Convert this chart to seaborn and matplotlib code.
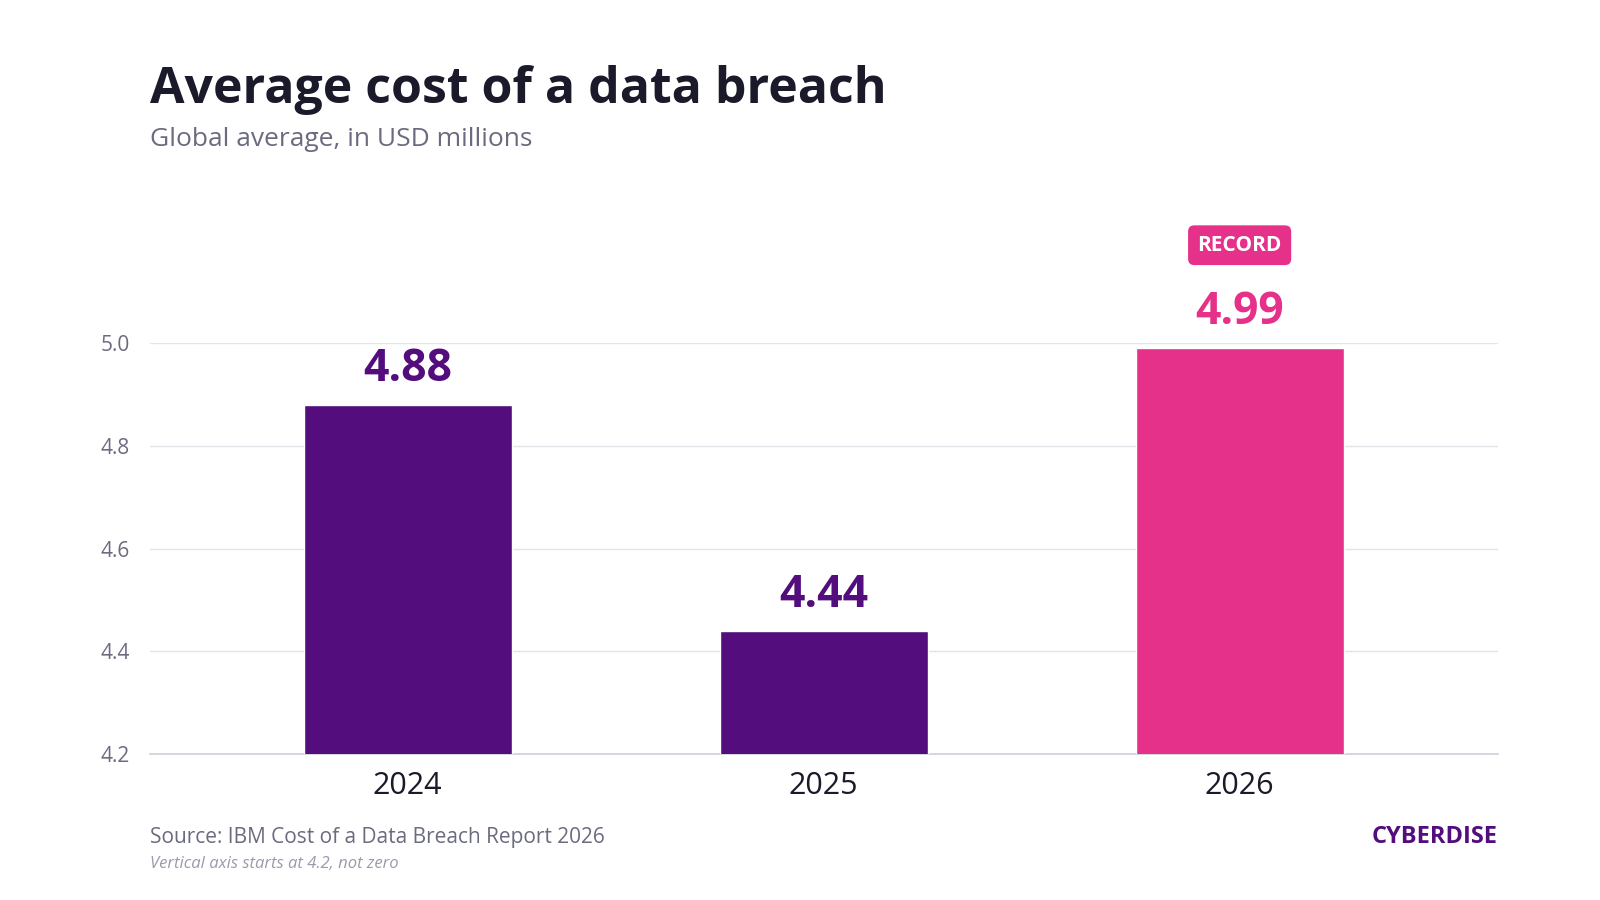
import matplotlib
matplotlib.use("Agg")
import matplotlib.pyplot as plt
import seaborn as sns
import pandas as pd

years = ["2024", "2025", "2026"]
costs = [4.88, 4.44, 4.99]
bar_colors = ["#540D7C", "#540D7C", "#E5318A"]
y_ticks = [4.2, 4.4, 4.6, 4.8, 5.0]

sns.set_theme(style="white")
plt.rcParams["font.family"] = ["Open Sans", "DejaVu Sans"]

df = pd.DataFrame({"year": years, "cost": costs})

fig = plt.figure(figsize=(16, 9), dpi=100)
ax = fig.add_axes([0.094, 0.162, 0.842, 0.457])

sns.barplot(data=df, x="year", y="cost", hue="year", palette=bar_colors,
            saturation=1, width=0.5, legend=False, ax=ax, zorder=3)

ax.set_ylim(4.2, 5.0)
ax.set_xlim(-0.618, 2.62)
ax.set_yticks(y_ticks)
ax.set_yticklabels([f"{t:.1f}" for t in y_ticks], fontsize=15, color="#6b6b80")
ax.tick_params(axis="x", labelsize=22, colors="#1a1a2a", pad=12, length=0)
ax.tick_params(axis="y", length=0, pad=15)
ax.set_xlabel("")
ax.set_ylabel("")
for t in y_ticks[1:]:
    ax.axhline(t, color="#e3e3ea", lw=1, zorder=1)
for s in ["top", "right", "left"]:
    ax.spines[s].set_visible(False)
ax.spines["bottom"].set_color("#d0d0dc")

for i, (v, c) in enumerate(zip(costs, bar_colors)):
    ax.text(i, v + 0.025, f"{v:.2f}", ha="center", va="bottom", fontsize=32,
            fontweight="bold", color=c, clip_on=False)
ax.text(2, 5.19, "RECORD", ha="center", va="center", fontsize=15,
        fontweight="bold", color="white", clip_on=False,
        bbox=dict(boxstyle="round,pad=0.45,rounding_size=0.3", fc="#E5318A", ec="none"))

fig.text(0.094, 0.9, "Average cost of a data breach", fontsize=36,
         fontweight="bold", color="#1a1a2a", va="center")
fig.text(0.094, 0.845, "Global average, in USD millions", fontsize=19,
         color="#6b6b80", va="center")
fig.text(0.094, 0.07, "Source: IBM Cost of a Data Breach Report 2026",
         fontsize=15, color="#6b6b80", va="center")
fig.text(0.094, 0.04, "Vertical axis starts at 4.2, not zero",
         fontsize=12, style="italic", color="#9a9aab", va="center")
fig.text(0.936, 0.07, "CYBERDISE", fontsize=17, fontweight="bold",
         color="#540D7C", ha="right", va="center")

fig.savefig("out.png", dpi=100)
